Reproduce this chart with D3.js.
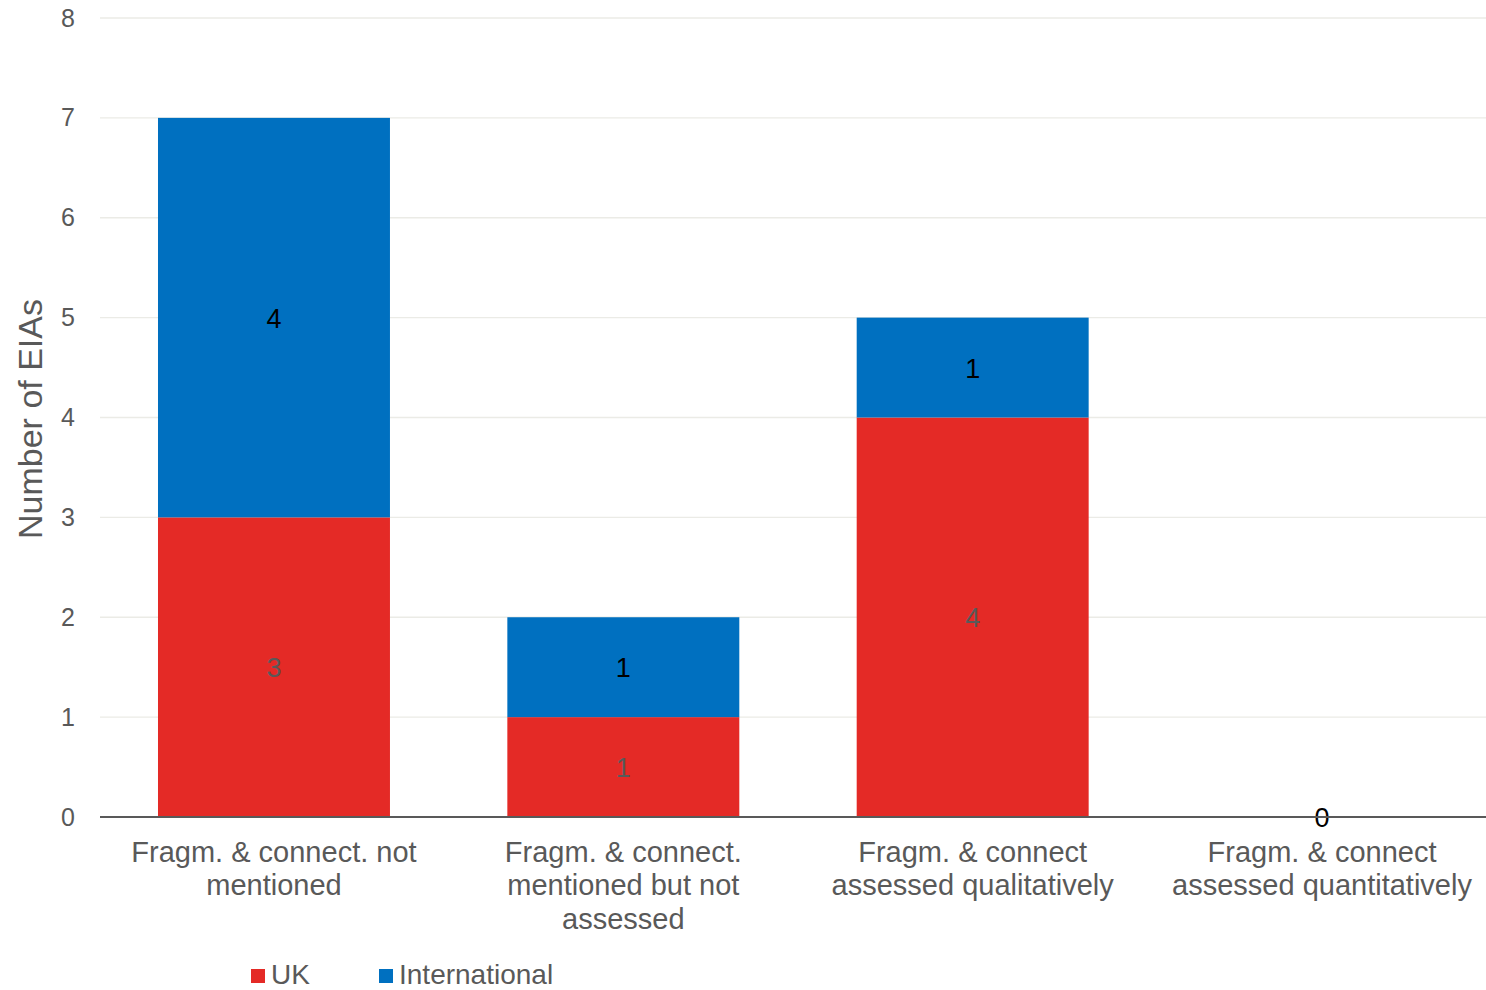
<!DOCTYPE html>
<html><head><meta charset="utf-8">
<script src="https://cdn.jsdelivr.net/npm/d3@7"></script>
<style>body{margin:0;background:#fff}svg{display:block}text{font-family:"Liberation Sans",Arial,sans-serif}</style>
</head><body><svg id="c" width="1486" height="990"></svg>
<script>
const categories = [
  ["Fragm. & connect. not", "mentioned"],
  ["Fragm. & connect.", "mentioned but not", "assessed"],
  ["Fragm. & connect", "assessed qualitatively"],
  ["Fragm. & connect", "assessed quantitatively"]
];
const ukValues = [3, 1, 4, 0];
const intlValues = [4, 1, 1, 0];
const yTicks = [0, 1, 2, 3, 4, 5, 6, 7, 8];
const seriesNames = ["UK", "International"];
const seriesColors = ["#e42a26", "#0070c0"];

const svg = d3.select("#c");
const plotL = 100, plotR = 1486, plotT = 18, plotB = 817;
const x = d3.scaleBand().domain(d3.range(categories.length)).range([plotL, 1496]).paddingInner(0.336).paddingOuter(0.166);
const y = d3.scaleLinear().domain([0, 8]).range([plotB, plotT]);

// gridlines
svg.append("g").selectAll("line").data(yTicks.filter(t => t > 0)).join("line")
  .attr("x1", plotL).attr("x2", plotR).attr("y1", d => y(d)).attr("y2", d => y(d))
  .attr("stroke", "#ebebe6").attr("stroke-width", 1.3);

// y tick labels
const yAxis = d3.axisLeft(y).tickValues(yTicks).tickSize(0).tickPadding(0);
const gy = svg.append("g").attr("transform", `translate(${plotL - 25},0)`).call(yAxis);
gy.select(".domain").remove();
gy.selectAll("text").attr("font-size", 25).attr("fill", "#595959").attr("text-anchor", "end")
  .attr("font-family", '"Liberation Sans",Arial,sans-serif');

// stacked data
const rows = categories.map((c, i) => ({i, UK: ukValues[i], International: intlValues[i]}));
const stack = d3.stack().keys(seriesNames)(rows);

stack.forEach((s, si) => {
  svg.append("g").selectAll("rect").data(s).join("rect")
    .attr("x", (d, i) => x(i)).attr("width", x.bandwidth())
    .attr("y", d => y(d[1])).attr("height", d => y(d[0]) - y(d[1]))
    .attr("fill", seriesColors[si]);
});

// data labels
stack.forEach((s, si) => {
  svg.append("g").selectAll("text").data(s.filter(d => d[1] - d[0] > 0)).join("text")
    .attr("x", d => x(d.data.i) + x.bandwidth() / 2)
    .attr("y", d => y((d[0] + d[1]) / 2) + 10)
    .attr("text-anchor", "middle").attr("font-size", 27)
    .attr("fill", si === 0 ? "#595959" : "#000")
    .text(d => d[1] - d[0]);
});
// zero label for empty category
rows.filter(r => r.UK + r.International === 0).forEach(r => {
  svg.append("text").attr("x", x(r.i) + x.bandwidth() / 2).attr("y", y(0) + 10)
    .attr("text-anchor", "middle").attr("font-size", 27).attr("fill", "#000").text(r.UK + r.International);
});

// x axis line
svg.append("line").attr("x1", plotL).attr("x2", plotR).attr("y1", y(0)).attr("y2", y(0))
  .attr("stroke", "#595959").attr("stroke-width", 2.2);

// category labels
const gx = svg.append("g");
categories.forEach((lines, i) => {
  const t = gx.append("text").attr("text-anchor", "middle").attr("font-size", 29).attr("fill", "#595959");
  lines.forEach((ln, k) => {
    t.append("tspan").attr("x", x(i) + x.bandwidth() / 2).attr("y", 862 + k * 33.3).text(ln);
  });
});

// y axis title
svg.append("text").attr("transform", `translate(42,419) rotate(-90)`)
  .attr("text-anchor", "middle").attr("font-size", 34).attr("fill", "#595959").text("Number of EIAs");

// legend
const legX = [251, 379];
seriesNames.forEach((n, i) => {
  svg.append("rect").attr("x", legX[i]).attr("y", 969).attr("width", 14).attr("height", 14).attr("fill", seriesColors[i]);
  svg.append("text").attr("x", legX[i] + 20).attr("y", 984).attr("font-size", 28).attr("fill", "#595959").text(n);
});
</script></body></html>
